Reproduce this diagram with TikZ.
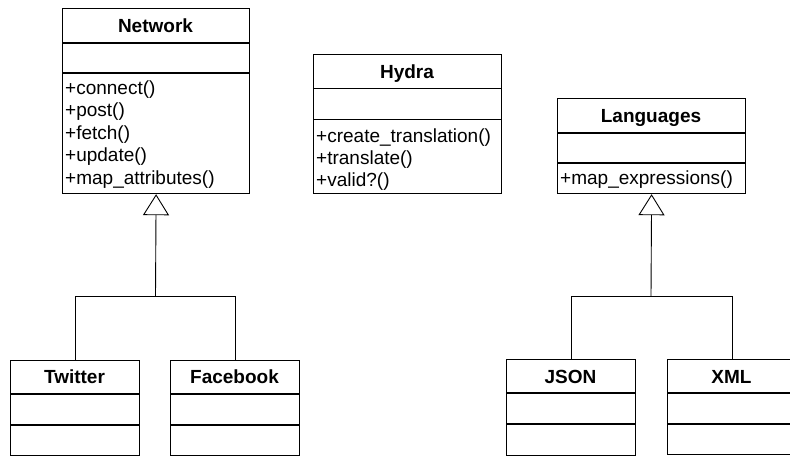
\documentclass[tikz,border=0pt]{standalone}
\usepackage{fontspec}
\setmainfont{Liberation Sans}
\usetikzlibrary{arrows.meta}
\newcommand\fsz{\fontsize{19pt}{22pt}\selectfont}
\tikzset{
  box/.style={draw, line width=1.2pt, inner sep=0pt, anchor=north west},
  divider/.style={line width=1.2pt},
  ttl/.style={anchor=base, font=\fsz\bfseries, inner sep=0pt},
  mth/.style={anchor=base west, font=\fsz, inner sep=0pt},
  conn/.style={line width=0.9pt},
  inh/.style={conn, -{Triangle[open, width=26pt, length=21pt, line width=0.9pt]}},
}
\begin{document}
\begin{tikzpicture}[x=1pt,y=-1pt]
\useasboundingbox[fill=white] (0,0) rectangle (790,458);

% ---------- Network ----------
\node[box, minimum width=187pt, minimum height=185pt] (Network) at (62,8) {};
\draw[divider] (62,43) -- (249,43);
\draw[divider] (62,73) -- (249,73);
\node[ttl] (NetworkT) at (155.5,32) {Network};
\node[mth] (n1) at (65,94.5) {+connect()};
\node[mth] (n2) at (65,116.9) {+post()};
\node[mth] (n3) at (65,139.3) {+fetch()};
\node[mth] (n4) at (65,161.7) {+update()};
\node[mth] (n5) at (65,184.1) {+map\_attributes()};

% ---------- Hydra ----------
\node[box, minimum width=188pt, minimum height=139pt] (Hydra) at (313,54) {};
\draw[divider] (313,88.7) -- (501,88.7);
\draw[divider] (313,119.7) -- (501,119.7);
\node[ttl] (HydraT) at (407,78.5) {Hydra};
\node[mth] (h1) at (316,142) {+create\_translation()};
\node[mth] (h2) at (316,164.4) {+translate()};
\node[mth] (h3) at (316,186.8) {+valid?()};

% ---------- Languages ----------
\node[box, minimum width=188pt, minimum height=95pt] (Languages) at (557,98) {};
\draw[divider] (557,133) -- (745,133);
\draw[divider] (557,163) -- (745,163);
\node[ttl] (LanguagesT) at (651,122) {Languages};
\node[mth] (l1) at (560,184.5) {+map\_expressions()};

% ---------- Twitter ----------
\node[box, minimum width=129pt, minimum height=95pt] (Twitter) at (10,360) {};
\draw[divider] (10,394) -- (139,394);
\draw[divider] (10,425) -- (139,425);
\node[ttl] (TwitterT) at (74.5,383) {Twitter};

% ---------- Facebook ----------
\node[box, minimum width=129pt, minimum height=95pt] (Facebook) at (170,360) {};
\draw[divider] (170,394) -- (299,394);
\draw[divider] (170,425) -- (299,425);
\node[ttl] (FacebookT) at (234.5,383) {Facebook};

% ---------- JSON ----------
\node[box, minimum width=129pt, minimum height=96pt] (JSON) at (506,359) {};
\draw[divider] (506,393) -- (635,393);
\draw[divider] (506,424) -- (635,424);
\node[ttl] (JSONT) at (570.5,383) {JSON};

% ---------- XML ----------
\node[box, minimum width=129pt, minimum height=95pt] (XML) at (667,359) {};
\draw[divider] (667,393) -- (796,393);
\draw[divider] (667,424) -- (796,424);
\node[ttl] (XMLT) at (731.5,383) {XML};

% ---------- connectors ----------
\coordinate (jn) at (155.5,296);
\draw[conn] (Twitter.north) |- (jn);
\draw[conn] (Facebook.north) |- (jn);
\draw[inh] (jn) -- (Network.south);

\coordinate (jl) at (651,296);
\draw[conn] (JSON.north) |- (jl);
\draw[conn] (XML.north) |- (jl);
\draw[inh] (jl) -- (Languages.south);
\end{tikzpicture}
\end{document}
